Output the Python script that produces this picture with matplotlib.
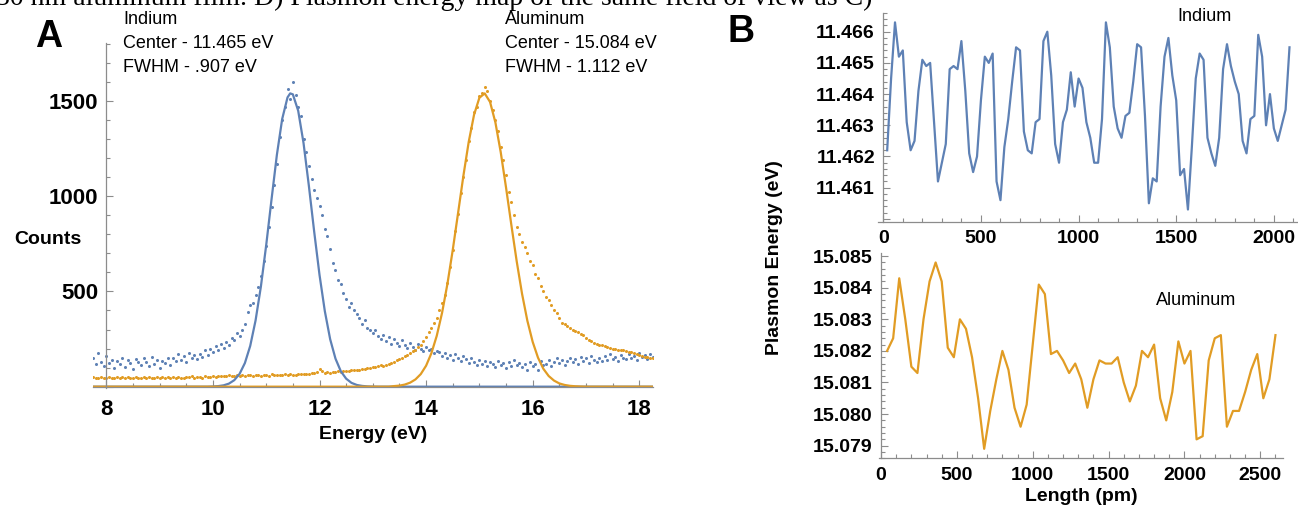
import numpy as np
import matplotlib
matplotlib.use("Agg")
import matplotlib.pyplot as plt
from matplotlib.ticker import MultipleLocator, FuncFormatter

plt.rcParams['font.family'] = ['Liberation Sans', 'DejaVu Sans']

BLUE = '#5E81B5'
ORANGE = '#E19C24'
AXIS_GRAY = '#8c8c8c'

# ---- panel A: spectra (dots every 0.05 eV from 7.75 to 18.25) ----
energy = np.round(7.75 + 0.05 * np.arange(211), 2)

indium_counts = [
    150, 120, 175, 130, 110, 160, 125, 140, 100, 135,
    120, 150, 105, 140, 125, 95, 145, 130, 115, 150,
    130, 110, 155, 120, 140, 100, 135, 125, 150, 115,
    150, 135, 170, 140, 160, 130, 175, 150, 165, 145,
    170, 155, 190, 165, 200, 180, 215, 195, 225, 205,
    235, 220, 255, 245, 280, 265, 300, 330, 390, 430,
    440, 480, 525, 580, 660, 740, 840, 945, 1060, 1170,
    1310, 1400, 1470, 1560, 1510, 1600, 1530, 1470, 1420, 1300,
    1230, 1160, 1090, 1030, 990, 950, 900, 830, 790, 720,
    650, 610, 560, 540, 490, 460, 420, 440, 400, 380,
    360, 330, 350, 310, 300, 280, 300, 265, 250, 270,
    240, 260, 225, 250, 230, 215, 245, 220, 205, 230,
    210, 195, 225, 200, 185, 210, 190, 200, 175, 185,
    180, 160, 175, 150, 165, 140, 170, 150, 135, 160,
    145, 125, 150, 130, 115, 140, 120, 135, 110, 130,
    120, 105, 135, 115, 125, 100, 130, 110, 140, 115,
    125, 105, 120, 90, 130, 110, 120, 85, 135, 115,
    120, 140, 110, 130, 150, 125, 140, 115, 135, 150,
    130, 145, 120, 155, 135, 150, 125, 160, 140, 130,
    150, 135, 160, 140, 170, 145, 155, 135, 165, 150,
    145, 170, 150, 160, 140, 175, 155, 165, 145, 170,
    155,
]

aluminum_counts = [
    50, 45, 48, 52, 44, 47, 50, 43, 48, 51,
    46, 49, 44, 50, 47, 45, 51, 48, 44, 49,
    47, 50, 45, 48, 52, 46, 49, 44, 50, 47,
    50, 46, 53, 48, 45, 51, 49, 54, 47, 50,
    52, 48, 55, 50, 53, 57, 51, 54, 58, 55,
    56, 60, 55, 58, 62, 57, 60, 55, 59, 61,
    58, 62, 60, 57, 63, 60, 58, 64, 61, 59,
    62, 60, 65, 61, 66, 63, 60, 64, 67, 65,
    68, 66, 70, 72, 75, 92, 80, 72, 76, 74,
    76, 78, 80, 77, 82, 84, 80, 86, 88, 85,
    90, 92, 95, 98, 100, 104, 102, 108, 112, 110,
    115, 120, 126, 132, 140, 146, 152, 160, 168, 175,
    185, 195, 208, 220, 240, 262, 285, 310, 335, 360,
    400, 440, 480, 545, 630, 715, 815, 905, 1015, 1100,
    1190, 1290, 1355, 1440, 1470, 1525, 1540, 1570, 1550, 1500,
    1450, 1400, 1340, 1260, 1190, 1110, 1020, 970, 900, 840,
    800, 760, 735, 700, 660, 640, 590, 570, 530, 500,
    470, 455, 430, 400, 385, 360, 335, 330, 320, 310,
    300, 290, 285, 275, 270, 255, 245, 240, 230, 225,
    220, 218, 215, 210, 205, 200, 198, 195, 190, 192,
    185, 182, 180, 175, 170, 165, 160, 158, 155, 150,
    150,
]

# gaussian fit curves
indium_fit_e = [7.75, 9.9, 10.0, 10.1, 10.2, 10.3, 10.4, 10.5, 10.6, 10.7, 10.8,
                10.9, 11.0, 11.1, 11.2, 11.3, 11.4, 11.45, 11.5, 11.6, 11.7, 11.8,
                11.9, 12.0, 12.1, 12.2, 12.3, 12.4, 12.5, 12.6, 12.7, 12.8, 12.9,
                13.0, 13.1, 18.25]
indium_fit = [0, 0, 1, 3, 7, 16, 34, 67, 124, 214, 347,
              525, 743, 983, 1216, 1405, 1518, 1539, 1534, 1448, 1279, 1055,
              814, 587, 396, 249, 147, 81, 42, 20, 9, 4, 1.5,
              0.5, 0, 0]

aluminum_fit_e = [7.75, 13.3, 13.4, 13.5, 13.6, 13.7, 13.8, 13.9, 14.0, 14.1, 14.2,
                  14.3, 14.4, 14.5, 14.6, 14.7, 14.8, 14.9, 15.0, 15.1, 15.2,
                  15.3, 15.4, 15.5, 15.6, 15.7, 15.8, 15.9, 16.0, 16.1, 16.2,
                  16.3, 16.4, 16.5, 16.6, 16.7, 16.8, 16.9, 17.0, 18.25]
aluminum_fit = [0, 0, 3, 5.5, 11, 21, 38, 66, 110, 176, 267,
                388, 539, 717, 911, 1107, 1285, 1427, 1516, 1539, 1494,
                1387, 1231, 1045, 848, 658, 488, 346, 235, 152, 94,
                56, 32, 17, 9, 4.4, 2.1, 0.9, 0, 0]

# ---- panel B: plasmon energy along a line ----
length_in = np.arange(20, 2081, 20)
plasmon_in = [
    11.4622, 11.4645, 11.4663, 11.4652, 11.4654, 11.4631, 11.4622, 11.4625, 11.4641, 11.4651,
    11.4649, 11.4650, 11.4631, 11.4612, 11.4618, 11.4624, 11.4648, 11.4649, 11.4648, 11.4657,
    11.4641, 11.4621, 11.4615, 11.4620, 11.4638, 11.4652, 11.4650, 11.4653, 11.4612, 11.4606,
    11.4623, 11.4632, 11.4644, 11.4655, 11.4654, 11.4628, 11.4622, 11.4621, 11.4631, 11.4632,
    11.4657, 11.4660, 11.4646, 11.4624, 11.4618, 11.4631, 11.4635, 11.4647, 11.4636, 11.4645,
    11.4642, 11.4631, 11.4626, 11.4618, 11.4618, 11.4632, 11.4663, 11.4655, 11.4636, 11.4629,
    11.4626, 11.4633, 11.4634, 11.4644, 11.4656, 11.4655, 11.4633, 11.4605, 11.4613, 11.4612,
    11.4636, 11.4652, 11.4658, 11.4646, 11.4638, 11.4614, 11.4616, 11.4603, 11.4623, 11.4645,
    11.4653, 11.4651, 11.4626, 11.4621, 11.4617, 11.4626, 11.4648, 11.4656, 11.4649, 11.4644,
    11.4640, 11.4625, 11.4621, 11.4632, 11.4633, 11.4659, 11.4652, 11.4630, 11.4640, 11.4629,
    11.4625, 11.4630, 11.4635, 11.4655,
]

length_al = np.arange(40, 2601, 40)
plasmon_al = [
    15.0820, 15.0824, 15.0843, 15.0830, 15.0815, 15.0813, 15.0830, 15.0842, 15.0848, 15.0842,
    15.0821, 15.0818, 15.0830, 15.0827, 15.0818, 15.0805, 15.0789, 15.0801, 15.0811, 15.0820,
    15.0814, 15.0802, 15.0796, 15.0803, 15.0822, 15.0841, 15.0838, 15.0819, 15.0820, 15.0817,
    15.0813, 15.0816, 15.0811, 15.0802, 15.0811, 15.0817, 15.0816, 15.0816, 15.0818, 15.0810,
    15.0804, 15.0809, 15.0820, 15.0818, 15.0822, 15.0805, 15.0798, 15.0807, 15.0823, 15.0816,
    15.0820, 15.0792, 15.0793, 15.0817, 15.0824, 15.0825, 15.0796, 15.0801, 15.0801, 15.0807,
    15.0814, 15.0819, 15.0805, 15.0811, 15.0825,
]

W, H = 1298, 514
fig = plt.figure(figsize=(W / 100, H / 100), dpi=100)


def px_axes(x0, y0, x1, y1):
    # axes box given in pixel coords of the image (top-left origin)
    return fig.add_axes([x0 / W, 1 - y1 / H, (x1 - x0) / W, (y1 - y0) / H])


def mma_style(ax, label_size=16):
    # mathematica-like axes: only left and bottom, gray, ticks pointing inward
    for side in ('top', 'right'):
        ax.spines[side].set_visible(False)
    for side in ('left', 'bottom'):
        ax.spines[side].set_color(AXIS_GRAY)
        ax.spines[side].set_linewidth(0.9)
    ax.tick_params(which='both', direction='in', color=AXIS_GRAY, width=0.8,
                   labelsize=label_size)
    ax.tick_params(which='major', length=5, pad=6)
    ax.tick_params(which='minor', length=3)
    for lab in ax.get_xticklabels() + ax.get_yticklabels():
        lab.set_fontweight('bold')


# cut-off caption line at the very top
fig.text(-0.003, 1 - 5 / H,
         "30 nm aluminum film. D) Plasmon energy map of the same field of view as C)",
         fontsize=20, family='Liberation Serif', va='baseline', ha='left')

# ---------------- panel A ----------------
axA = px_axes(93, 42.7, 652.6, 388.2)
axA.plot(energy, indium_counts, 'o', ms=2.2, mew=0, color=BLUE)
axA.plot(energy, aluminum_counts, 'o', ms=2.2, mew=0, color=ORANGE)
axA.plot(indium_fit_e, indium_fit, color=BLUE, lw=1.6)
axA.plot(aluminum_fit_e, aluminum_fit, color=ORANGE, lw=1.6)
axA.set_xlim(7.75, 18.25)
axA.set_ylim(-8, 1805)
axA.spines['left'].set_position(('data', 8))
axA.spines['bottom'].set_position(('data', 0))
axA.xaxis.set_major_locator(MultipleLocator(2))
axA.xaxis.set_minor_locator(MultipleLocator(0.5))
axA.yaxis.set_major_locator(MultipleLocator(500))
axA.yaxis.set_minor_locator(MultipleLocator(100))
axA.xaxis.set_major_formatter(FuncFormatter(lambda v, p: f"{v:.0f}"))
axA.yaxis.set_major_formatter(FuncFormatter(lambda v, p: "" if v <= 0 else f"{v:.0f}"))
mma_style(axA, 16)
axA.tick_params(axis='x', which='major', pad=9)
axA.set_xlabel("Energy (eV)", fontsize=14, fontweight='bold', labelpad=4)

fig.text(48 / W, 1 - 240 / H, "Counts", fontsize=14, fontweight='bold',
         ha='center', va='center')
fig.text(35 / W, 1 - 47 / H, "A", fontsize=27, fontweight='bold', ha='left', va='baseline')

for x0, lines in ((123, ["Indium", "Center - 11.465 eV", "FWHM - .907 eV"]),
                  (505, ["Aluminum", "Center - 15.084 eV", "FWHM - 1.112 eV"])):
    for i, s in enumerate(lines):
        fig.text(x0 / W, 1 - (20 + 24 * i) / H, s, fontsize=13, ha='left', va='center')

# ---------------- panel B ----------------
fig.text(728 / W, 1 - 42 / H, "B", fontsize=27, fontweight='bold', ha='left', va='baseline')

axB1 = px_axes(878.4, 13, 1297.3, 222)
axB1.plot(length_in, plasmon_in, color=BLUE, lw=1.6)
axB1.set_xlim(-25, 2120)
axB1.set_ylim(11.4599, 11.4666)
axB1.spines['left'].set_position(('data', 0))
axB1.xaxis.set_major_locator(MultipleLocator(500))
axB1.xaxis.set_minor_locator(MultipleLocator(100))
axB1.yaxis.set_major_locator(MultipleLocator(0.001))
axB1.yaxis.set_minor_locator(MultipleLocator(0.0002))
# no label where the axes cross
axB1.yaxis.set_major_formatter(FuncFormatter(lambda v, p: "" if v < 11.4605 else f"{v:.3f}"))
axB1.xaxis.set_major_formatter(FuncFormatter(lambda v, p: f"{v:.0f}"))
mma_style(axB1, 14)
axB1.text(1647, 11.46648, "Indium", fontsize=13, ha='center', va='center')

axB2 = px_axes(879.2, 253, 1283.2, 458.3)
axB2.plot(length_al, plasmon_al, color=ORANGE, lw=1.6)
axB2.set_xlim(-12, 2651)
axB2.set_ylim(15.0786, 15.0851)
axB2.spines['left'].set_position(('data', 0))
axB2.xaxis.set_major_locator(MultipleLocator(500))
axB2.xaxis.set_minor_locator(MultipleLocator(100))
axB2.yaxis.set_major_locator(MultipleLocator(0.001))
axB2.yaxis.set_minor_locator(MultipleLocator(0.0002))
axB2.yaxis.set_major_formatter(FuncFormatter(lambda v, p: f"{v:.3f}"))
axB2.xaxis.set_major_formatter(FuncFormatter(lambda v, p: f"{v:.0f}"))
mma_style(axB2, 14)
axB2.text(2080, 15.0836, "Aluminum", fontsize=13, ha='center', va='center')
axB2.set_xlabel("Length (pm)", fontsize=14, fontweight='bold', labelpad=3)

fig.text(775 / W, 1 - 258 / H, "Plasmon Energy (eV)", fontsize=14, fontweight='bold',
         rotation=90, ha='center', va='center')

fig.savefig("out.png", dpi=100)
